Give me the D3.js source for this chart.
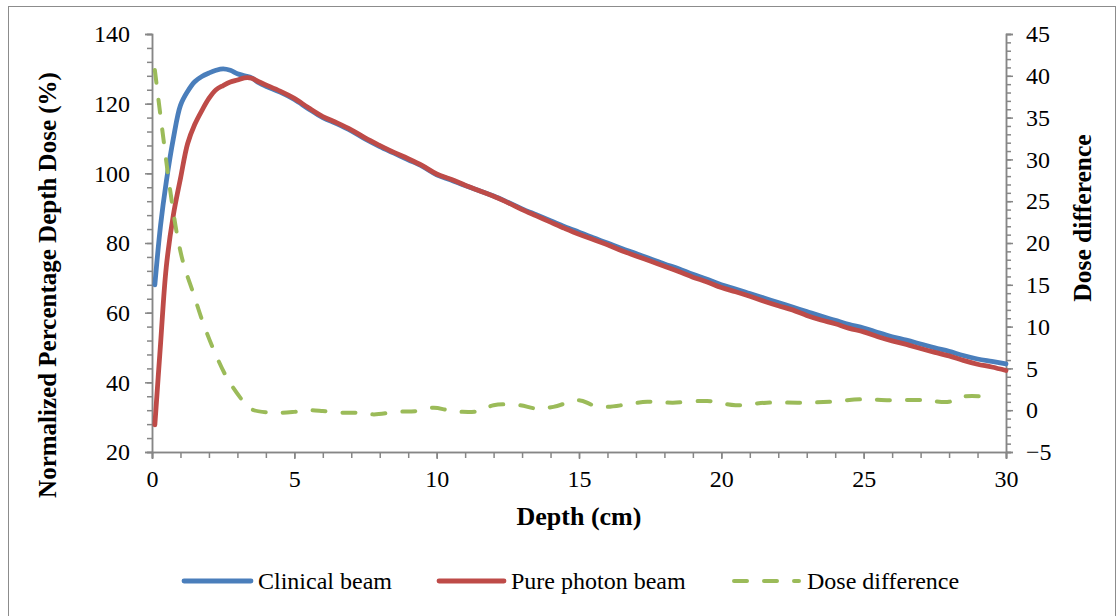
<!DOCTYPE html>
<html>
<head>
<meta charset="utf-8">
<script src="https://cdn.jsdelivr.net/npm/d3@7"></script>
<style>
  html, body { margin: 0; padding: 0; background: #fff; }
  svg { display: block; }
  text { font-family: "Liberation Serif", "Times New Roman", serif; fill: #000; }
</style>
</head>
<body>
<svg id="chart" width="1118" height="616"></svg>
<script>
// Depth (cm) sample points for the two dose curves
const depth = [0.1, 0.3, 0.5, 0.75, 1.0, 1.25, 1.5, 1.75, 2.0, 2.25, 2.5, 2.75, 3.0, 3.25, 3.5, 3.75, 4.0,
  4.5, 5.0, 5.5, 6.0, 6.5, 7.0, 7.5, 8.0, 8.5, 9.0, 9.5, 10.0, 10.5, 11.0, 11.5, 12.0, 12.5, 13.0, 13.5,
  14.0, 14.5, 15.0, 15.5, 16.0, 16.5, 17.0, 17.5, 18.0, 18.5, 19.0, 19.5, 20.0, 20.5, 21.0, 21.5, 22.0,
  22.5, 23.0, 23.5, 24.0, 24.5, 25.0, 25.5, 26.0, 26.5, 27.0, 27.5, 28.0, 28.5, 29.0, 29.5, 30.0];

// Normalized PDD (%) of the clinical beam
const clinicalBeam = [68.0, 85.0, 97.5, 110.0, 119.5, 123.5, 126.3, 127.8, 128.8, 129.6, 130.0, 129.6, 128.6,
  128.0, 127.4, 126.0, 125.0, 123.3, 121.2, 118.5, 116.0, 114.2, 112.2, 109.8, 107.7, 105.8, 103.9, 102.0,
  99.6, 98.1, 96.5, 95.0, 93.5, 91.7, 89.8, 88.1, 86.4, 84.7, 83.1, 81.5, 80.0, 78.4, 77.0, 75.5, 74.0, 72.6,
  71.0, 69.6, 68.0, 66.8, 65.5, 64.2, 62.9, 61.6, 60.3, 59.0, 57.8, 56.6, 55.6, 54.3, 53.1, 52.1, 51.0,
  49.9, 48.9, 47.7, 46.7, 46.0, 45.3];

// Normalized PDD (%) of the pure photon beam
const purePhotonBeam = [27.8, 51.0, 73.0, 88.0, 98.5, 108.5, 114.0, 118.0, 121.5, 124.0, 125.2, 126.2, 126.8,
  127.4, 127.3, 126.3, 125.4, 123.6, 121.5, 118.8, 116.3, 114.5, 112.5, 110.1, 108.0, 106.0, 104.2, 102.2,
  99.8, 98.3, 96.6, 95.0, 93.4, 91.6, 89.6, 87.8, 86.0, 84.2, 82.5, 81.0, 79.5, 77.8, 76.3, 74.8, 73.3,
  71.8, 70.2, 68.8, 67.2, 66.0, 64.7, 63.3, 62.0, 60.8, 59.2, 57.9, 56.8, 55.5, 54.5, 53.1, 51.9, 50.9,
  49.7, 48.6, 47.6, 46.3, 45.2, 44.4, 43.4];

// Dose difference between the two beams (right axis)
const diffDepth = [0.1, 0.28, 0.4, 0.55, 0.69, 0.87, 1.1, 1.45, 1.8, 2.22, 2.68, 3.27, 3.5, 4.2, 5.0, 5.5,
  6.0, 6.6, 7.2, 7.8, 8.6, 9.3, 9.9, 10.4, 10.9, 11.5, 12.0, 12.9, 13.5, 14.1, 15.0, 15.5, 16.0, 16.7,
  17.4, 18.3, 19.5, 20.5, 21.6, 22.8, 23.8, 24.9, 25.9, 27.1, 28.0, 28.4, 29.5];
const doseDifference = [40.7, 35.7, 32.5, 28.5, 25.1, 21.2, 17.6, 14.0, 10.4, 6.8, 3.6, 0.8, 0.1, -0.3, -0.2,
  0.0, -0.1, -0.3, -0.3, -0.5, -0.2, -0.1, 0.3, 0.0, -0.2, -0.1, 0.6, 0.6, 0.2, 0.4, 1.2, 0.6, 0.4, 0.7,
  1.0, 0.9, 1.1, 0.6, 0.9, 0.9, 1.0, 1.3, 1.2, 1.2, 1.0, 1.6, 1.6];

// Axis tick values
const xTicks = [0, 5, 10, 15, 20, 25, 30];
const leftTicks = [20, 40, 60, 80, 100, 120, 140];
const rightTicks = [-5, 0, 5, 10, 15, 20, 25, 30, 35, 40, 45];

const seriesNames = ["Clinical beam", "Pure photon beam", "Dose difference"];
const colors = ["#4a7ebb", "#be4b48", "#9bbb59"];

const svg = d3.select("#chart");
const axisColor = "#868686";
const dash = "13,17";

// Outer chart frame
svg.append("rect")
  .attr("x", 8.5).attr("y", 6.5).attr("width", 1107).attr("height", 640)
  .attr("fill", "none").attr("stroke", "#8c8c8c").attr("stroke-width", 1);

const plot = { left: 152, right: 1006, top: 34, bottom: 452 };

const x = d3.scaleLinear().domain([0, 30]).range([plot.left, plot.right]);
const yL = d3.scaleLinear().domain([20, 140]).range([plot.bottom, plot.top]);
const yR = d3.scaleLinear().domain([-5, 45]).range([plot.bottom, plot.top]);

function styleAxis(g) {
  g.selectAll(".domain").attr("stroke", axisColor).attr("stroke-width", 1.5);
  g.selectAll(".tick line").attr("stroke", axisColor).attr("stroke-width", 1.5);
  g.selectAll(".tick text")
    .style("font-family", "'Liberation Serif', 'Times New Roman', serif")
    .style("font-size", "24px").attr("fill", "#000");
}

// Minor ticks
svg.append("g").attr("transform", `translate(0,${plot.bottom})`)
  .call(d3.axisBottom(x).tickValues(d3.range(0, 31, 1)).tickSize(6).tickFormat(""))
  .call(styleAxis);
svg.append("g").attr("transform", `translate(${plot.left},0)`)
  .call(d3.axisLeft(yL).tickValues(d3.range(20, 141, 4)).tickSize(5).tickFormat(""))
  .call(styleAxis);
svg.append("g").attr("transform", `translate(${plot.right},0)`)
  .call(d3.axisRight(yR).tickValues(d3.range(-5, 46, 1)).tickSize(5).tickFormat(""))
  .call(styleAxis);

// Major axes
svg.append("g").attr("transform", `translate(0,${plot.bottom})`)
  .call(d3.axisBottom(x).tickValues(xTicks).tickSize(7).tickPadding(11).tickFormat(d3.format("d")))
  .call(styleAxis);
svg.append("g").attr("transform", `translate(${plot.left},0)`)
  .call(d3.axisLeft(yL).tickValues(leftTicks).tickSize(7).tickPadding(15).tickFormat(d3.format("d")))
  .call(styleAxis);
svg.append("g").attr("transform", `translate(${plot.right},0)`)
  .call(d3.axisRight(yR).tickValues(rightTicks).tickSize(7).tickPadding(13).tickFormat(d3.format("d")))
  .call(styleAxis);

// Axis titles
svg.append("text")
  .attr("transform", "translate(56,285) rotate(-90)")
  .attr("text-anchor", "middle").style("font-size", "25px").style("font-weight", "bold")
  .text("Normalized Percentage Depth Dose (%)");
svg.append("text")
  .attr("x", (plot.left + plot.right) / 2).attr("y", 525)
  .attr("text-anchor", "middle").style("font-size", "26px").style("font-weight", "bold")
  .text("Depth (cm)");
svg.append("text")
  .attr("transform", "translate(1091,218) rotate(-90)")
  .attr("text-anchor", "middle").style("font-size", "25.5px").style("font-weight", "bold")
  .text("Dose difference");

// Curves
const lineL = d3.line().x(d => x(d[0])).y(d => yL(d[1])).curve(d3.curveCatmullRom.alpha(0.5));
const lineR = d3.line().x(d => x(d[0])).y(d => yR(d[1])).curve(d3.curveCatmullRom.alpha(0.5));

svg.append("path")
  .datum(d3.zip(depth, clinicalBeam))
  .attr("d", lineL).attr("fill", "none").attr("stroke", colors[0])
  .attr("stroke-width", 4.8).attr("stroke-linecap", "round").attr("stroke-linejoin", "round");
svg.append("path")
  .datum(d3.zip(depth, purePhotonBeam))
  .attr("d", lineL).attr("fill", "none").attr("stroke", colors[1])
  .attr("stroke-width", 4.8).attr("stroke-linecap", "round").attr("stroke-linejoin", "round");
svg.append("path")
  .datum(d3.zip(diffDepth, doseDifference))
  .attr("d", lineR).attr("fill", "none").attr("stroke", colors[2])
  .attr("stroke-width", 4).attr("stroke-dasharray", dash)
  .attr("stroke-linecap", "round").attr("stroke-linejoin", "round");

// Legend
const legendY = 581;
const legendItems = [
  { x0: 184, x1: 251, tx: 258 },
  { x0: 439, x1: 504, tx: 511 },
  { x0: 734, x1: 799, tx: 807 }
];
legendItems.forEach((it, i) => {
  const g = svg.append("g");
  const ln = g.append("line").attr("x1", it.x0).attr("x2", it.x1)
    .attr("y1", legendY).attr("y2", legendY).attr("stroke", colors[i])
    .attr("stroke-width", i === 2 ? 4 : 4.8).attr("stroke-linecap", "round");
  if (i === 2) ln.attr("stroke-dasharray", dash);
  g.append("text").attr("x", it.tx).attr("y", legendY + 8)
    .style("font-size", "24px").text(seriesNames[i]);
});
</script>
</body>
</html>
